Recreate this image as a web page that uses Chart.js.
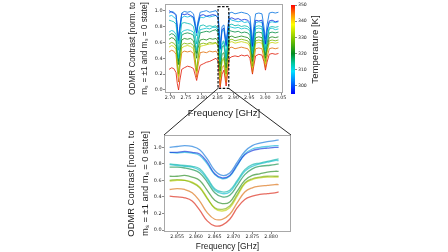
<!DOCTYPE html>
<html>
<head>
<meta charset="utf-8">
<script src="https://cdn.jsdelivr.net/npm/chart.js@4.4.1/dist/chart.umd.min.js"></script>
<style>
  html, body { margin: 0; padding: 0; background: #fff; }
  #wrap { position: relative; width: 448px; height: 252px; }
  #wrap canvas { position: absolute; left: 0; top: 0; }
</style>
</head>
<body>
<div id="wrap">
  <canvas id="wide-chart" width="448" height="252"></canvas>
  <canvas id="zoom-chart" width="448" height="252"></canvas>
  <canvas id="cbar-chart" width="448" height="252"></canvas>
</div>
<script>
// temperature of each trace [K]
const TEMPS = [303, 298, 308, 312, 310, 318, 322, 330, 336, 345, 349];

// full spectrum, frequency [GHz]
const FREQ_WIDE = [2.697, 2.705, 2.712, 2.719, 2.723, 2.727, 2.731, 2.737, 2.745, 2.755, 2.765, 2.774,
  2.780, 2.784, 2.788, 2.795, 2.805, 2.815, 2.825, 2.835, 2.845, 2.852, 2.858, 2.864, 2.870, 2.877,
  2.882, 2.887, 2.895, 2.905, 2.915, 2.925, 2.935, 2.945, 2.952, 2.956, 2.960, 2.964, 2.970, 2.980,
  2.990, 2.996, 3.001, 3.006, 3.013, 3.022, 3.032, 3.042];

const wide303 = [0.97, 0.99, 0.98, 0.95, 0.78, 0.62, 0.80, 0.97, 0.99, 0.98, 0.99, 0.96, 0.84, 0.74, 0.86, 0.98, 0.99, 1.00, 0.98, 0.99, 1.00, 0.96, 0.55, 0.80, 0.82, 0.60, 0.78, 0.97, 0.98, 0.96, 0.97, 0.98, 0.97, 0.96, 0.93, 0.78, 0.61, 0.80, 0.96, 0.97, 0.96, 0.80, 0.64, 0.82, 0.97, 0.98, 0.97, 0.98];
const wide298 = [1.00, 0.98, 0.97, 0.94, 0.80, 0.63, 0.78, 0.96, 0.95, 0.96, 0.94, 0.92, 0.80, 0.72, 0.83, 0.94, 0.95, 0.93, 0.94, 0.95, 0.94, 0.91, 0.52, 0.76, 0.78, 0.56, 0.74, 0.90, 0.91, 0.89, 0.90, 0.88, 0.89, 0.88, 0.85, 0.70, 0.55, 0.72, 0.88, 0.87, 0.88, 0.74, 0.58, 0.75, 0.87, 0.88, 0.86, 0.87];
const wide308 = [0.93, 0.94, 0.92, 0.89, 0.74, 0.58, 0.75, 0.91, 0.93, 0.92, 0.93, 0.90, 0.78, 0.68, 0.80, 0.92, 0.91, 0.93, 0.92, 0.93, 0.94, 0.90, 0.50, 0.74, 0.76, 0.54, 0.73, 0.90, 0.88, 0.87, 0.86, 0.87, 0.85, 0.86, 0.83, 0.68, 0.54, 0.70, 0.85, 0.86, 0.85, 0.72, 0.57, 0.73, 0.85, 0.86, 0.85, 0.86];
const wide312 = [0.88, 0.87, 0.86, 0.83, 0.66, 0.50, 0.66, 0.84, 0.85, 0.84, 0.83, 0.80, 0.68, 0.58, 0.70, 0.81, 0.82, 0.80, 0.81, 0.80, 0.81, 0.77, 0.38, 0.60, 0.62, 0.42, 0.62, 0.82, 0.83, 0.81, 0.82, 0.80, 0.81, 0.80, 0.77, 0.63, 0.49, 0.64, 0.80, 0.81, 0.80, 0.66, 0.52, 0.67, 0.79, 0.80, 0.79, 0.80];
const wide310 = [0.73, 0.75, 0.74, 0.70, 0.55, 0.40, 0.56, 0.73, 0.75, 0.76, 0.75, 0.73, 0.60, 0.50, 0.62, 0.76, 0.77, 0.78, 0.77, 0.79, 0.79, 0.75, 0.36, 0.58, 0.60, 0.40, 0.60, 0.80, 0.79, 0.78, 0.79, 0.77, 0.78, 0.77, 0.74, 0.60, 0.46, 0.61, 0.77, 0.78, 0.77, 0.63, 0.49, 0.64, 0.77, 0.78, 0.76, 0.77];
const wide318 = [0.69, 0.71, 0.70, 0.66, 0.50, 0.36, 0.51, 0.69, 0.71, 0.72, 0.71, 0.69, 0.56, 0.46, 0.58, 0.72, 0.73, 0.74, 0.73, 0.75, 0.76, 0.72, 0.32, 0.54, 0.56, 0.36, 0.56, 0.75, 0.74, 0.73, 0.74, 0.72, 0.73, 0.72, 0.69, 0.55, 0.41, 0.56, 0.72, 0.73, 0.72, 0.58, 0.44, 0.59, 0.72, 0.73, 0.72, 0.73];
const wide322 = [0.64, 0.66, 0.65, 0.61, 0.46, 0.32, 0.47, 0.63, 0.65, 0.64, 0.65, 0.62, 0.50, 0.40, 0.52, 0.63, 0.64, 0.63, 0.65, 0.64, 0.65, 0.61, 0.24, 0.45, 0.47, 0.28, 0.47, 0.67, 0.68, 0.66, 0.67, 0.68, 0.67, 0.66, 0.63, 0.50, 0.36, 0.51, 0.66, 0.67, 0.66, 0.53, 0.40, 0.54, 0.66, 0.67, 0.66, 0.67];
const wide330 = [0.58, 0.60, 0.59, 0.55, 0.36, 0.20, 0.38, 0.57, 0.59, 0.58, 0.59, 0.56, 0.38, 0.24, 0.40, 0.58, 0.59, 0.58, 0.60, 0.59, 0.60, 0.56, 0.16, 0.38, 0.41, 0.20, 0.42, 0.63, 0.64, 0.62, 0.63, 0.64, 0.63, 0.62, 0.58, 0.44, 0.30, 0.45, 0.62, 0.63, 0.62, 0.49, 0.36, 0.50, 0.62, 0.63, 0.62, 0.63];
const wide336 = [0.54, 0.56, 0.55, 0.51, 0.32, 0.17, 0.34, 0.53, 0.55, 0.56, 0.55, 0.52, 0.35, 0.22, 0.37, 0.55, 0.56, 0.57, 0.58, 0.58, 0.59, 0.55, 0.14, 0.36, 0.39, 0.18, 0.40, 0.60, 0.61, 0.59, 0.60, 0.61, 0.60, 0.59, 0.55, 0.41, 0.28, 0.42, 0.59, 0.60, 0.59, 0.46, 0.33, 0.47, 0.59, 0.60, 0.59, 0.60];
const wide345 = [0.48, 0.50, 0.49, 0.45, 0.26, 0.10, 0.28, 0.47, 0.49, 0.48, 0.49, 0.46, 0.28, 0.16, 0.30, 0.47, 0.48, 0.47, 0.49, 0.48, 0.49, 0.45, 0.06, 0.28, 0.31, 0.10, 0.32, 0.53, 0.54, 0.52, 0.53, 0.54, 0.53, 0.52, 0.48, 0.35, 0.22, 0.36, 0.52, 0.53, 0.52, 0.40, 0.28, 0.41, 0.52, 0.53, 0.52, 0.53];
const wide349 = [0.26, 0.28, 0.27, 0.22, 0.08, 0.00, 0.12, 0.26, 0.28, 0.30, 0.29, 0.27, 0.18, 0.12, 0.20, 0.31, 0.33, 0.35, 0.36, 0.38, 0.40, 0.36, 0.03, 0.20, 0.25, 0.05, 0.22, 0.40, 0.42, 0.43, 0.42, 0.44, 0.43, 0.44, 0.40, 0.30, 0.20, 0.30, 0.43, 0.45, 0.44, 0.36, 0.25, 0.35, 0.45, 0.46, 0.45, 0.46];

// zoom on the central dip, frequency [GHz]
const FREQ_ZOOM = [2.853, 2.855, 2.857, 2.859, 2.861, 2.863, 2.865, 2.867, 2.869, 2.871, 2.873, 2.875, 2.877, 2.879, 2.881, 2.882];

const zoom303 = [1.00, 1.01, 1.02, 1.01, 0.97, 0.86, 0.72, 0.66, 0.69, 0.82, 0.95, 1.02, 1.05, 1.07, 1.08, 1.09];
const zoom298 = [0.94, 0.94, 0.95, 0.94, 0.92, 0.82, 0.68, 0.63, 0.66, 0.79, 0.91, 0.96, 0.98, 0.99, 1.00, 1.00];
const zoom308 = [0.94, 0.93, 0.94, 0.93, 0.90, 0.80, 0.67, 0.62, 0.65, 0.78, 0.92, 0.98, 1.00, 1.01, 1.02, 1.02];
const zoom312 = [0.80, 0.79, 0.78, 0.77, 0.74, 0.63, 0.50, 0.46, 0.48, 0.60, 0.73, 0.79, 0.81, 0.83, 0.85, 0.86];
const zoom310 = [0.79, 0.78, 0.77, 0.76, 0.72, 0.61, 0.48, 0.44, 0.46, 0.58, 0.71, 0.77, 0.80, 0.82, 0.84, 0.84];
const zoom318 = [0.76, 0.76, 0.75, 0.73, 0.69, 0.58, 0.45, 0.40, 0.42, 0.54, 0.67, 0.74, 0.77, 0.78, 0.79, 0.80];
const zoom322 = [0.65, 0.65, 0.66, 0.64, 0.60, 0.48, 0.36, 0.32, 0.34, 0.47, 0.60, 0.66, 0.68, 0.70, 0.71, 0.71];
const zoom330 = [0.60, 0.61, 0.60, 0.57, 0.51, 0.38, 0.27, 0.25, 0.29, 0.43, 0.57, 0.62, 0.64, 0.65, 0.65, 0.65];
const zoom336 = [0.59, 0.60, 0.60, 0.58, 0.52, 0.39, 0.26, 0.23, 0.27, 0.41, 0.56, 0.61, 0.63, 0.64, 0.64, 0.64];
const zoom345 = [0.49, 0.50, 0.49, 0.45, 0.35, 0.21, 0.13, 0.13, 0.19, 0.33, 0.46, 0.51, 0.53, 0.54, 0.55, 0.55];
const zoom349 = [0.41, 0.40, 0.39, 0.35, 0.24, 0.11, 0.05, 0.06, 0.13, 0.27, 0.37, 0.41, 0.43, 0.44, 0.45, 0.46];

// tick labels
const TICKS_WIDE_X = [2.70, 2.75, 2.80, 2.85, 2.90, 2.95, 3.00, 3.05];
const TICKS_ZOOM_X = [2.855, 2.860, 2.865, 2.870, 2.875, 2.880];
const TICKS_Y = [0.0, 0.2, 0.4, 0.6, 0.8, 1.0];
const TICKS_TEMP = [300, 310, 320, 330, 340, 350];

const WIDE = [wide303, wide298, wide308, wide312, wide310, wide318, wide322, wide330, wide336, wide345, wide349];
const ZOOM = [zoom303, zoom298, zoom308, zoom312, zoom310, zoom318, zoom322, zoom330, zoom336, zoom345, zoom349];

// jet-like colour map for temperature
const CMAP_T = [295, 302, 309, 314, 320, 328, 338, 344, 350];
const CMAP_RGB = [[0, 0, 255], [0, 112, 255], [0, 224, 255], [0, 200, 160], [0, 140, 32],
  [112, 192, 0], [255, 255, 0], [255, 144, 0], [255, 0, 0]];

// dim < 1 darkens the colour (the plotted traces are a little muted)
function cmap(t, a, dim = 1) {
  let i = 0;
  while (i < CMAP_T.length - 2 && t > CMAP_T[i + 1]) i++;
  const f = Math.min(1, Math.max(0, (t - CMAP_T[i]) / (CMAP_T[i + 1] - CMAP_T[i])));
  const c = CMAP_RGB[i].map((v, k) => Math.round((v + (CMAP_RGB[i + 1][k] - v) * f) * dim));
  return `rgba(${c[0]},${c[1]},${c[2]},${a})`;
}

const TITLE_FONT = "'Liberation Sans Narrow', 'Liberation Sans', Arial, sans-serif";
const TICK_FONT = "'DejaVu Sans', sans-serif";

const framePlugin = {
  id: 'frame',
  afterDraw(chart) {
    const { ctx, chartArea: a } = chart;
    ctx.save();
    ctx.strokeStyle = '#a8a8a8';
    ctx.lineWidth = 1;
    ctx.strokeRect(a.left + 0.5, a.top + 0.5, a.right - a.left - 1, a.bottom - a.top - 1);
    ctx.restore();
  }
};

function fixTicks(list) {
  return scale => { scale.ticks = list.map(v => ({ value: v })); };
}

function axisX(min, max, list, digits, titleSize, height) {
  return {
    type: 'linear', min, max,
    afterBuildTicks: fixTicks(list),
    afterFit: s => { s.height = height; },
    grid: { drawOnChartArea: false, drawTicks: true, tickLength: 2, color: '#888' },
    border: { display: false },
    ticks: { padding: 0, maxRotation: 0, autoSkip: false, color: '#222',
      font: { family: TICK_FONT, size: 4.8 }, callback: v => v.toFixed(digits) },
    title: { display: true, text: 'Frequency [GHz]', color: '#1a1a1a', padding: { top: 0, bottom: 0 },
      font: { family: TITLE_FONT, size: titleSize, lineHeight: 1.2 } }
  };
}

function axisY(min, max, titleSize, lineH, titlePad) {
  return {
    min, max,
    afterBuildTicks: fixTicks(TICKS_Y),
    afterFit: s => { s.width = 40; },
    grid: { drawOnChartArea: false, drawTicks: true, tickLength: 2, color: '#888' },
    border: { display: false },
    ticks: { padding: 0.5, autoSkip: false, color: '#222',
      font: { family: TICK_FONT, size: 4.9 }, callback: v => v.toFixed(1) },
    title: { display: true, color: '#1a1a1a', padding: { top: titlePad, bottom: 0 },
      text: ['ODMR Contrast [norm. to', 'm\u209B = \u00B11 and m\u209B = 0 state]'],
      font: { family: TITLE_FONT, size: titleSize, lineHeight: lineH } }
  };
}

const baseOpts = {
  responsive: false, animation: false, devicePixelRatio: 1, events: [],
  plugins: { legend: { display: false }, tooltip: { enabled: false } }
};

const wideChart = new Chart(document.getElementById('wide-chart'), {
  type: 'line',
  data: {
    datasets: WIDE.map((vals, i) => ({
      data: vals.map((v, j) => ({ x: FREQ_WIDE[j], y: v })),
      borderColor: cmap(TEMPS[i], 0.8, 0.88), borderWidth: 1, pointRadius: 0, tension: 0
    }))
  },
  options: {
    ...baseOpts,
    layout: { padding: { left: 125, right: 165, top: 4, bottom: 133 } },
    scales: {
      x: axisX(2.6842, 3.0563, TICKS_WIDE_X, 2, 9.6, 26),
      y: axisY(-0.038, 1.084, 8.2, 1.43, 2.3)
    }
  },
  plugins: [framePlugin]
});

// dashed box on the wide plot and lines to the zoom plot
const zoomLinks = {
  id: 'zoomLinks',
  afterDraw(chart) {
    const { ctx } = chart;
    const xs = wideChart.scales.x, ys = wideChart.scales.y;
    const zx = chart.scales.x;
    const x0 = xs.getPixelForValue(zx.min), x1 = xs.getPixelForValue(zx.max);
    const y0 = ys.getPixelForValue(1.05), y1 = ys.getPixelForValue(0.02);
    const a = chart.chartArea;
    ctx.save();
    ctx.strokeStyle = '#111';
    ctx.lineWidth = 1.2;
    ctx.setLineDash([2.5, 1.5]);
    ctx.strokeRect(x0, y0, x1 - x0, y1 - y0);
    ctx.setLineDash([]);
    ctx.lineWidth = 0.9;
    ctx.beginPath();
    ctx.moveTo(x0, y1); ctx.lineTo(a.left, a.top);
    ctx.moveTo(x1, y1); ctx.lineTo(a.right, a.top);
    ctx.stroke();
    ctx.restore();
  }
};

new Chart(document.getElementById('zoom-chart'), {
  type: 'line',
  data: {
    datasets: ZOOM.map((vals, i) => ({
      data: vals.map((v, j) => ({ x: FREQ_ZOOM[j], y: v })),
      borderColor: cmap(TEMPS[i], 0.62, 0.85), borderWidth: 1.3, pointRadius: 0, tension: 0.4
    }))
  },
  options: {
    ...baseOpts,
    layout: { padding: { left: 124, right: 157, top: 135, bottom: 0 } },
    scales: {
      x: axisX(2.8515, 2.8853, TICKS_ZOOM_X, 3, 8.4, 20),
      y: axisY(-0.024, 1.149, 9.4, 1.42, 1.0)
    }
  },
  plugins: [framePlugin, zoomLinks]
});

// colour bar
const cbarPaint = {
  id: 'cbarPaint',
  beforeDraw(chart) {
    const { ctx, chartArea: a } = chart;
    const ys = chart.scales.y;
    const g = ctx.createLinearGradient(0, ys.getPixelForValue(ys.min), 0, ys.getPixelForValue(ys.max));
    CMAP_T.forEach(t => g.addColorStop((t - ys.min) / (ys.max - ys.min), cmap(t, 1)));
    ctx.save();
    ctx.fillStyle = g;
    ctx.fillRect(a.left, a.top, a.right - a.left, a.bottom - a.top);
    ctx.fillStyle = '#1a1a1a';
    ctx.font = `9.6px ${TITLE_FONT}`;
    ctx.textAlign = 'center';
    ctx.textBaseline = 'middle';
    ctx.translate(315, (a.top + a.bottom) / 2);
    ctx.rotate(-Math.PI / 2);
    ctx.fillText('Temperature [K]', 0, 0);
    ctx.restore();
  }
};

new Chart(document.getElementById('cbar-chart'), {
  type: 'line',
  data: { datasets: [] },
  options: {
    ...baseOpts,
    layout: { padding: { left: 291, right: 139, top: 5, bottom: 158 } },
    scales: {
      x: { display: false },
      y: {
        position: 'right', min: 295, max: 350,
        afterBuildTicks: fixTicks(TICKS_TEMP),
        afterFit: s => { s.width = 14; },
        grid: { drawOnChartArea: false, drawTicks: true, tickLength: 2, color: '#888' },
        border: { display: false },
        ticks: { padding: 1, color: '#222', font: { family: TICK_FONT, size: 4.6 } }
      }
    }
  },
  plugins: [cbarPaint]
});
</script>
</body>
</html>
